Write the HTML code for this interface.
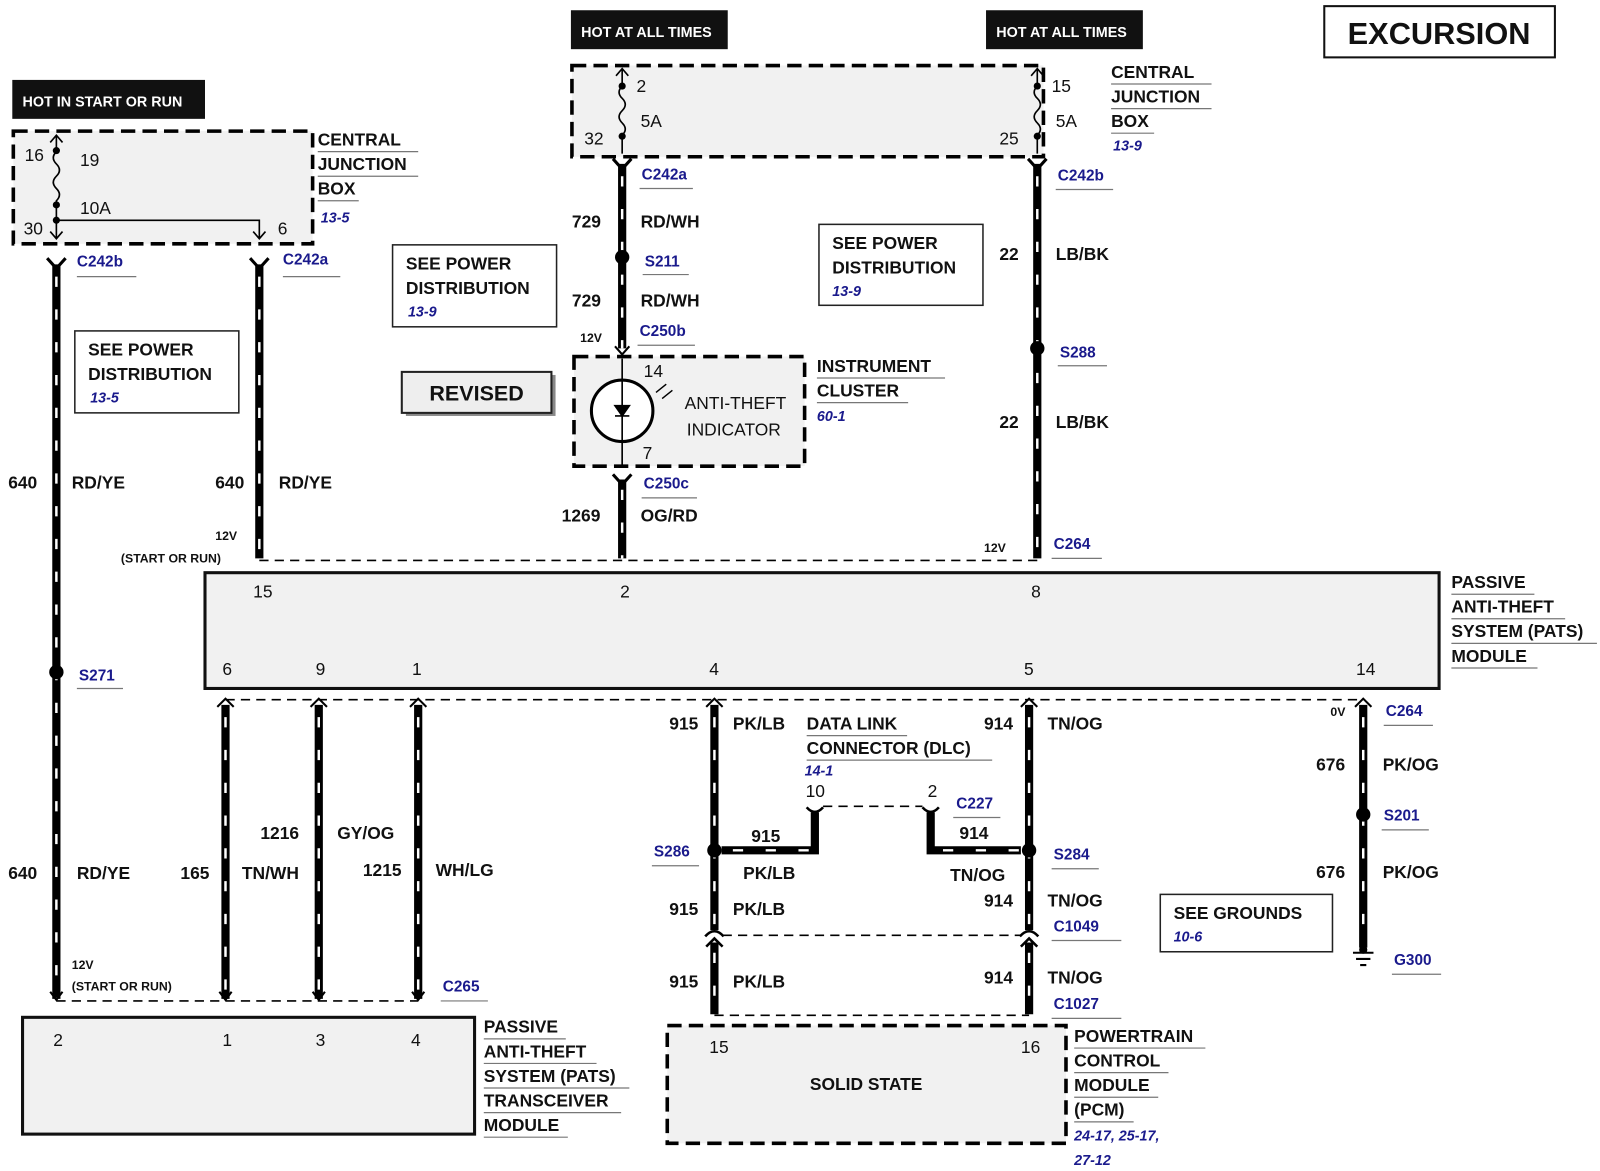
<!DOCTYPE html>
<html><head><meta charset="utf-8"><style>
html,body{margin:0;padding:0;background:#fff;}
svg{display:block;}
text{font-family:"Liberation Sans",Arial,sans-serif;font-weight:bold;fill:#111;}
.n{font-size:17px;font-weight:normal;}
.b{font-size:17px;}
.bl{fill:#1a1a8c;font-size:15px;}
.it{fill:#1a1a8c;font-size:14px;font-style:italic;}
.w{stroke:#000;stroke-width:8;fill:none;}
.ws{stroke:#fff;stroke-width:2.4;stroke-dasharray:10 22;fill:none;}
.d{stroke:#000;stroke-width:1.6;stroke-dasharray:9 6;fill:none;}
.ul{stroke:#777;stroke-width:1.2;}
</style></head><body>
<svg width="1600" height="1171" viewBox="0 0 1561 1143" preserveAspectRatio="none" xmlns="http://www.w3.org/2000/svg">
<rect width="1561" height="1143" fill="#fff"/>

<!-- headers -->
<rect x="12" y="78" width="188" height="38" fill="#111"/>
<text x="22" y="104" style="fill:#fff;font-size:14px">HOT IN START OR RUN</text>
<rect x="557" y="10" width="153" height="38" fill="#111"/>
<text x="567" y="36" style="fill:#fff;font-size:14px">HOT AT ALL TIMES</text>
<rect x="962" y="10" width="153" height="38" fill="#111"/>
<text x="972" y="36" style="fill:#fff;font-size:14px">HOT AT ALL TIMES</text>
<rect x="1292" y="6" width="225" height="50" fill="#fff" stroke="#111" stroke-width="2"/>
<text x="1404" y="43" text-anchor="middle" style="font-size:30px">EXCURSION</text>

<!-- left CJB -->
<rect x="13" y="128" width="292" height="110" fill="#f1f1f1" stroke="#000" stroke-width="3.5" stroke-dasharray="14 7"/>
<path d="M55 133 V148 q-6 6 0 12 q6 6 0 12 q-6 6 0 12 q6 6 0 12 V232" stroke="#000" stroke-width="1.6" fill="none"/>
<path d="M49 139 L55 132 L61 139 M49 226 L55 233 L61 226" stroke="#000" stroke-width="1.6" fill="none"/>
<circle cx="55" cy="147" r="3.5"/><circle cx="55" cy="200" r="3.5"/><circle cx="55" cy="215" r="3.5"/>
<path d="M55 215 H253 V232 M247 226 L253 233 L259 226" stroke="#000" stroke-width="1.6" fill="none"/>
<text class="n" x="24" y="157">16</text><text class="n" x="78" y="162">19</text>
<text class="n" x="78" y="209">10A</text><text class="n" x="23" y="229">30</text><text class="n" x="271" y="229">6</text>
<text class="b" x="310" y="142">CENTRAL</text><line class="ul" x1="310" y1="148" x2="408" y2="148"/>
<text class="b" x="310" y="166">JUNCTION</text><line class="ul" x1="310" y1="172" x2="408" y2="172"/>
<text class="b" x="310" y="190">BOX</text><line class="ul" x1="310" y1="196" x2="350" y2="196"/>
<text class="it" x="313" y="217">13-5</text>

<!-- top CJB -->
<rect x="558" y="64" width="460" height="89" fill="#f1f1f1" stroke="#000" stroke-width="3.5" stroke-dasharray="14 7"/>
<path d="M607 68 V84 q-6 6 0 12 q6 6 0 12 q-6 6 0 12 q6 6 0 12 V150" stroke="#000" stroke-width="1.6" fill="none"/>
<path d="M601 74 L607 67 L613 74" stroke="#000" stroke-width="1.6" fill="none"/>
<circle cx="607" cy="84" r="3.5"/><circle cx="607" cy="133" r="3.5"/>
<path d="M1012 68 V84 q-6 6 0 12 q6 6 0 12 q-6 6 0 12 q6 6 0 12 V150" stroke="#000" stroke-width="1.6" fill="none"/>
<path d="M1006 74 L1012 67 L1018 74" stroke="#000" stroke-width="1.6" fill="none"/>
<circle cx="1012" cy="84" r="3.5"/><circle cx="1012" cy="133" r="3.5"/>
<text class="n" x="621" y="90">2</text><text class="n" x="625" y="124">5A</text><text class="n" x="570" y="141">32</text>
<text class="n" x="1026" y="90">15</text><text class="n" x="1030" y="124">5A</text><text class="n" x="975" y="141">25</text>
<text class="b" x="1084" y="76">CENTRAL</text><line class="ul" x1="1084" y1="82" x2="1182" y2="82"/>
<text class="b" x="1084" y="100">JUNCTION</text><line class="ul" x1="1084" y1="106" x2="1182" y2="106"/>
<text class="b" x="1084" y="124">BOX</text><line class="ul" x1="1084" y1="130" x2="1126" y2="130"/>
<text class="it" x="1086" y="147">13-9</text>

<!-- boxes -->
<rect x="73" y="323" width="160" height="80" fill="#fff" stroke="#222" stroke-width="1.5"/>
<text class="b" x="86" y="347">SEE POWER</text><text class="b" x="86" y="371">DISTRIBUTION</text><text class="it" x="88" y="393">13-5</text>
<rect x="383" y="239" width="160" height="80" fill="#fff" stroke="#222" stroke-width="1.5"/>
<text class="b" x="396" y="263">SEE POWER</text><text class="b" x="396" y="287">DISTRIBUTION</text><text class="it" x="398" y="309">13-9</text>
<rect x="799" y="219" width="160" height="79" fill="#fff" stroke="#222" stroke-width="1.5"/>
<text class="b" x="812" y="243">SEE POWER</text><text class="b" x="812" y="267">DISTRIBUTION</text><text class="it" x="812" y="289">13-9</text>
<rect x="396" y="366" width="146" height="40" fill="#888"/>
<rect x="392" y="363" width="146" height="40" fill="#eee" stroke="#222" stroke-width="2"/>
<text x="465" y="391" text-anchor="middle" style="font-size:21px">REVISED</text>
<rect x="1132" y="873" width="168" height="56" fill="#fff" stroke="#222" stroke-width="1.5"/>
<text class="b" x="1145" y="897">SEE GROUNDS</text><text class="it" x="1145" y="919">10-6</text>

<!-- left wires -->
<path class="w" d="M55 258 V975 M253 258 V545"/><path class="ws" d="M55 270 V975 M253 270 V545"/>
<path d="M46 252 L55 262 L64 252 M244 252 L253 262 L262 252" stroke="#000" stroke-width="3" fill="none"/>
<circle cx="55" cy="656" r="7"/>
<text class="bl" x="75" y="260">C242b</text><line class="ul" x1="75" y1="270" x2="133" y2="270"/>
<text class="bl" x="276" y="258">C242a</text><line class="ul" x1="276" y1="270" x2="332" y2="270"/>
<text class="bl" x="77" y="664">S271</text><line class="ul" x1="75" y1="672" x2="120" y2="672"/>
<text class="b" x="8" y="477">640</text><text class="b" x="70" y="477">RD/YE</text>
<text class="b" x="210" y="477">640</text><text class="b" x="272" y="477">RD/YE</text>
<text class="b" x="8" y="858">640</text><text class="b" x="75" y="858">RD/YE</text>
<text x="210" y="527" style="font-size:12px">12V</text><text x="118" y="549" style="font-size:12px">(START OR RUN)</text>
<text x="70" y="946" style="font-size:12px">12V</text><text x="70" y="967" style="font-size:12px">(START OR RUN)</text>
<path class="d" d="M253 547 H1012"/>

<!-- center wire -->
<path class="w" d="M607 160 V340 M607 468 V545"/><path class="ws" d="M607 172 V340 M607 478 V545"/>
<path d="M598 155 L607 165 L616 155 M598 463 L607 473 L616 463" stroke="#000" stroke-width="3" fill="none"/>
<path d="M600 338 L607 346 L614 338" stroke="#000" stroke-width="2" fill="none"/>
<circle cx="607" cy="251" r="7"/>
<text class="bl" x="626" y="175">C242a</text><line class="ul" x1="624" y1="184" x2="676" y2="184"/>
<text class="b" x="558" y="222">729</text><text class="b" x="625" y="222">RD/WH</text>
<text class="bl" x="629" y="260">S211</text><line class="ul" x1="627" y1="268" x2="672" y2="268"/>
<text class="b" x="558" y="299">729</text><text class="b" x="625" y="299">RD/WH</text>
<text x="566" y="334" style="font-size:12px">12V</text>
<text class="bl" x="624" y="328">C250b</text><line class="ul" x1="622" y1="337" x2="678" y2="337"/>
<rect x="560" y="348" width="225" height="107" fill="#f1f1f1" stroke="#000" stroke-width="3.5" stroke-dasharray="14 7"/>
<path d="M607 350 V371 M607 431 V456" stroke="#000" stroke-width="1.6"/>
<circle cx="607" cy="401" r="30" fill="#fff" stroke="#000" stroke-width="3"/>
<path d="M607 371 V431 M600 396 H614 L607 406 Z M600 406 H614" stroke="#000" stroke-width="1.6" fill="#000"/>
<path d="M640 383 L650 375 M646 389 L656 381" stroke="#000" stroke-width="1.4"/>
<text class="n" x="628" y="368">14</text><text class="n" x="627" y="448">7</text>
<text class="n" x="668" y="399">ANTI-THEFT</text><text class="n" x="670" y="425">INDICATOR</text>
<text class="b" x="797" y="363">INSTRUMENT</text><line class="ul" x1="797" y1="369" x2="922" y2="369"/>
<text class="b" x="797" y="387">CLUSTER</text><line class="ul" x1="797" y1="393" x2="886" y2="393"/>
<text class="it" x="797" y="411">60-1</text>
<text class="bl" x="628" y="477">C250c</text><line class="ul" x1="626" y1="486" x2="680" y2="486"/>
<text class="b" x="548" y="509">1269</text><text class="b" x="625" y="509">OG/RD</text>

<!-- right top wire -->
<path class="w" d="M1012 160 V545"/><path class="ws" d="M1012 172 V545"/>
<path d="M1003 155 L1012 165 L1021 155" stroke="#000" stroke-width="3" fill="none"/>
<circle cx="1012" cy="340" r="7"/>
<text class="bl" x="1032" y="176">C242b</text><line class="ul" x1="1030" y1="185" x2="1086" y2="185"/>
<text class="b" x="975" y="254">22</text><text class="b" x="1030" y="254">LB/BK</text>
<text class="bl" x="1034" y="349">S288</text><line class="ul" x1="1032" y1="357" x2="1080" y2="357"/>
<text class="b" x="975" y="418">22</text><text class="b" x="1030" y="418">LB/BK</text>
<text x="960" y="539" style="font-size:12px">12V</text>
<text class="bl" x="1028" y="536">C264</text><line class="ul" x1="1026" y1="545" x2="1075" y2="545"/>

<!-- PATS module -->
<rect x="200" y="559" width="1204" height="113" fill="#f1f1f1" stroke="#111" stroke-width="3"/>
<text class="n" x="247" y="583">15</text><text class="n" x="605" y="583">2</text><text class="n" x="1006" y="583">8</text>
<text class="n" x="217" y="659">6</text><text class="n" x="308" y="659">9</text><text class="n" x="402" y="659">1</text>
<text class="n" x="692" y="659">4</text><text class="n" x="999" y="659">5</text><text class="n" x="1323" y="659">14</text>
<text class="b" x="1416" y="574">PASSIVE</text><line class="ul" x1="1416" y1="580" x2="1497" y2="580"/>
<text class="b" x="1416" y="598">ANTI-THEFT</text><line class="ul" x1="1416" y1="604" x2="1527" y2="604"/>
<text class="b" x="1416" y="622">SYSTEM (PATS)</text><line class="ul" x1="1416" y1="628" x2="1558" y2="628"/>
<text class="b" x="1416" y="646">MODULE</text><line class="ul" x1="1416" y1="652" x2="1500" y2="652"/>
<path class="d" d="M220 683 H1330"/>

<!-- lower left wires -->
<path class="w" d="M220 688 V975 M311 688 V975 M408 688 V975"/><path class="ws" d="M220 700 V975 M311 700 V975 M408 700 V975"/>
<path d="M212 690 L220 682 L228 690 M303 690 L311 682 L319 690 M400 690 L408 682 L416 690" stroke="#000" stroke-width="2" fill="none"/>
<path d="M49 968 L55 976 L61 968 M214 968 L220 976 L226 968 M305 968 L311 976 L317 968 M402 968 L408 976 L414 968" stroke="#000" stroke-width="2" fill="none"/>
<text class="b" x="176" y="858">165</text><text class="b" x="236" y="858">TN/WH</text>
<text class="b" x="254" y="819">1216</text><text class="b" x="329" y="819">GY/OG</text>
<text class="b" x="354" y="855">1215</text><text class="b" x="425" y="855">WH/LG</text>
<text class="bl" x="432" y="968">C265</text><line class="ul" x1="430" y1="977" x2="476" y2="977"/>
<path class="d" d="M55 977 H408"/>
<rect x="22" y="993" width="441" height="114" fill="#f1f1f1" stroke="#111" stroke-width="3"/>
<text class="n" x="52" y="1021">2</text><text class="n" x="217" y="1021">1</text><text class="n" x="308" y="1021">3</text><text class="n" x="401" y="1021">4</text>
<text class="b" x="472" y="1008">PASSIVE</text><line class="ul" x1="472" y1="1014" x2="552" y2="1014"/>
<text class="b" x="472" y="1032">ANTI-THEFT</text><line class="ul" x1="472" y1="1038" x2="582" y2="1038"/>
<text class="b" x="472" y="1056">SYSTEM (PATS)</text><line class="ul" x1="472" y1="1062" x2="614" y2="1062"/>
<text class="b" x="472" y="1080">TRANSCEIVER</text><line class="ul" x1="472" y1="1086" x2="606" y2="1086"/>
<text class="b" x="472" y="1104">MODULE</text><line class="ul" x1="472" y1="1110" x2="554" y2="1110"/>

<!-- DLC area -->
<path class="w" d="M697 688 V908 M1004 688 V908 M697 920 V990 M1004 920 V990"/>
<path class="ws" d="M697 700 V908 M1004 700 V908 M697 930 V990 M1004 930 V990"/>
<path d="M689 690 L697 682 L705 690 M996 690 L1004 682 L1012 690" stroke="#000" stroke-width="2" fill="none"/>
<path d="M688 914 Q697 904 706 914 M995 914 Q1004 904 1013 914 M689 924 L697 916 L705 924 M996 924 L1004 916 L1012 924" stroke="#000" stroke-width="2.5" fill="none"/>
<path class="w" d="M704 830 H795 V793 M908 793 V830 H996"/>
<path class="ws" d="M715 830 H795 M920 830 H996"/>
<path d="M787 788 Q795 797 803 788 M900 788 Q908 797 916 788" stroke="#000" stroke-width="2.5" fill="none"/>
<path class="d" d="M803 787 H900"/>
<circle cx="697" cy="830" r="7"/><circle cx="1004" cy="830" r="7"/>
<text class="b" x="653" y="712">915</text><text class="b" x="715" y="712">PK/LB</text>
<text class="b" x="787" y="712">DATA LINK</text><line class="ul" x1="787" y1="718" x2="885" y2="718"/>
<text class="b" x="787" y="736">CONNECTOR (DLC)</text><line class="ul" x1="787" y1="742" x2="968" y2="742"/>
<text class="it" x="785" y="757">14-1</text>
<text class="n" x="786" y="778">10</text><text class="n" x="905" y="778">2</text>
<text class="bl" x="933" y="789">C227</text><line class="ul" x1="930" y1="798" x2="976" y2="798"/>
<text class="b" x="733" y="822">915</text><text class="b" x="936" y="819">914</text>
<text class="b" x="725" y="858">PK/LB</text><text class="b" x="927" y="860">TN/OG</text>
<text class="bl" x="638" y="836">S286</text><line class="ul" x1="636" y1="845" x2="682" y2="845"/>
<text class="bl" x="1028" y="839">S284</text><line class="ul" x1="1026" y1="848" x2="1072" y2="848"/>
<text class="b" x="960" y="712">914</text><text class="b" x="1022" y="712">TN/OG</text>
<text class="b" x="653" y="893">915</text><text class="b" x="715" y="893">PK/LB</text>
<text class="b" x="960" y="885">914</text><text class="b" x="1022" y="885">TN/OG</text>
<text class="bl" x="1028" y="909">C1049</text><line class="ul" x1="1026" y1="918" x2="1094" y2="918"/>
<path class="d" d="M705 913 H996"/>
<text class="b" x="653" y="964">915</text><text class="b" x="715" y="964">PK/LB</text>
<text class="b" x="960" y="960">914</text><text class="b" x="1022" y="960">TN/OG</text>
<text class="bl" x="1028" y="985">C1027</text><line class="ul" x1="1026" y1="994" x2="1094" y2="994"/>
<path class="d" d="M697 991 H1004"/>
<rect x="651" y="1001" width="389" height="115" fill="#f1f1f1" stroke="#000" stroke-width="3.5" stroke-dasharray="14 7"/>
<text class="n" x="692" y="1028">15</text><text class="n" x="996" y="1028">16</text>
<text class="b" x="845" y="1064" text-anchor="middle">SOLID STATE</text>
<text class="b" x="1048" y="1017">POWERTRAIN</text><line class="ul" x1="1048" y1="1023" x2="1176" y2="1023"/>
<text class="b" x="1048" y="1041">CONTROL</text><line class="ul" x1="1048" y1="1047" x2="1140" y2="1047"/>
<text class="b" x="1048" y="1065">MODULE</text><line class="ul" x1="1048" y1="1071" x2="1130" y2="1071"/>
<text class="b" x="1048" y="1089">(PCM)</text><line class="ul" x1="1048" y1="1095" x2="1106" y2="1095"/>
<text class="it" x="1048" y="1113">24-17,   25-17,</text>
<text class="it" x="1048" y="1137">27-12</text>

<!-- right lower wire -->
<path class="w" d="M1330 688 V925"/><path class="ws" d="M1330 700 V925"/>
<path d="M1322 690 L1330 682 L1338 690" stroke="#000" stroke-width="2" fill="none"/>
<circle cx="1330" cy="795" r="7"/>
<path d="M1320 930 H1340 M1323 936 H1337 M1327 942 H1333" stroke="#000" stroke-width="2"/>
<circle cx="1330" cy="927" r="4"/>
<text x="1298" y="699" style="font-size:12px">0V</text>
<text class="bl" x="1352" y="699">C264</text><line class="ul" x1="1350" y1="708" x2="1398" y2="708"/>
<text class="b" x="1284" y="752">676</text><text class="b" x="1349" y="752">PK/OG</text>
<text class="bl" x="1350" y="801">S201</text><line class="ul" x1="1348" y1="810" x2="1394" y2="810"/>
<text class="b" x="1284" y="857">676</text><text class="b" x="1349" y="857">PK/OG</text>
<text class="bl" x="1360" y="942">G300</text><line class="ul" x1="1358" y1="951" x2="1406" y2="951"/>
</svg>
</body></html>
